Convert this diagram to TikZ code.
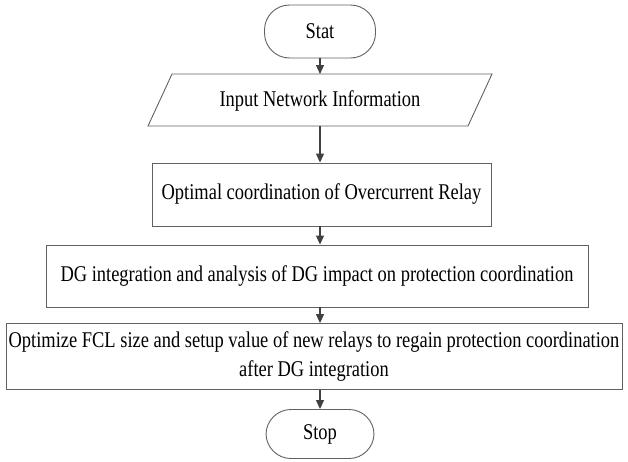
\documentclass[tikz,border=0pt]{standalone}
\usepackage{fontspec}
\setmainfont{Liberation Serif}[FakeStretch=0.82]
\usetikzlibrary{arrows.meta}
\begin{document}
\begin{tikzpicture}[x=1pt,y=-1pt,
  every node/.style={font=\fontsize{22.5}{29}\selectfont, text=black},
  boxline/.style={draw=black!62, line width=0.9pt},
  procbox/.style={boxline, rectangle, inner sep=0pt, align=center},
  termbox/.style={boxline, rectangle, rounded corners=25pt, inner sep=0pt},
  flow/.style={draw=black!75, line width=1.1pt, -{Triangle[length=9pt,width=8pt]}}]
\useasboundingbox (0,0) rectangle (628,461);

% terminals and process boxes
\node[termbox, minimum width=111pt, minimum height=53pt] (start) at (320,31.5) {Stat};
\coordinate (p1) at (148,126);
\coordinate (p2) at (172,74);
\coordinate (p3) at (492,74);
\coordinate (p4) at (468,126);
\draw[boxline] (p1) -- (p2) -- (p3) -- (p4) -- cycle;
\node (input) at (320,101) {Input Network Information};
\coordinate (inTop) at (320,74);
\coordinate (inBot) at (320,126);
\node[procbox, minimum width=339pt, minimum height=63pt] (ocr) at (321.5,194.5) {Optimal coordination of Overcurrent Relay};
\node[procbox, minimum width=542pt, minimum height=62pt] (dg) at (317,276) {DG integration and analysis of DG impact on protection coordination};
\node[procbox, minimum width=616pt, minimum height=66pt] (fcl) at (314,356.5) {Optimize FCL size and setup value of new relays to regain protection coordination\\after DG integration};
\node[termbox, minimum width=108pt, minimum height=49pt] (stop) at (320,434) {Stop};

% connectors
\draw[flow] (start.south) -- (inTop);
\draw[flow] (inBot) -- (ocr.north -| inBot);
\draw[flow] (ocr.south -| inBot) -- (dg.north -| inBot);
\draw[flow] (dg.south -| inBot) -- (fcl.north -| inBot);
\draw[flow] (fcl.south -| inBot) -- (stop.north -| inBot);
\end{tikzpicture}
\end{document}
